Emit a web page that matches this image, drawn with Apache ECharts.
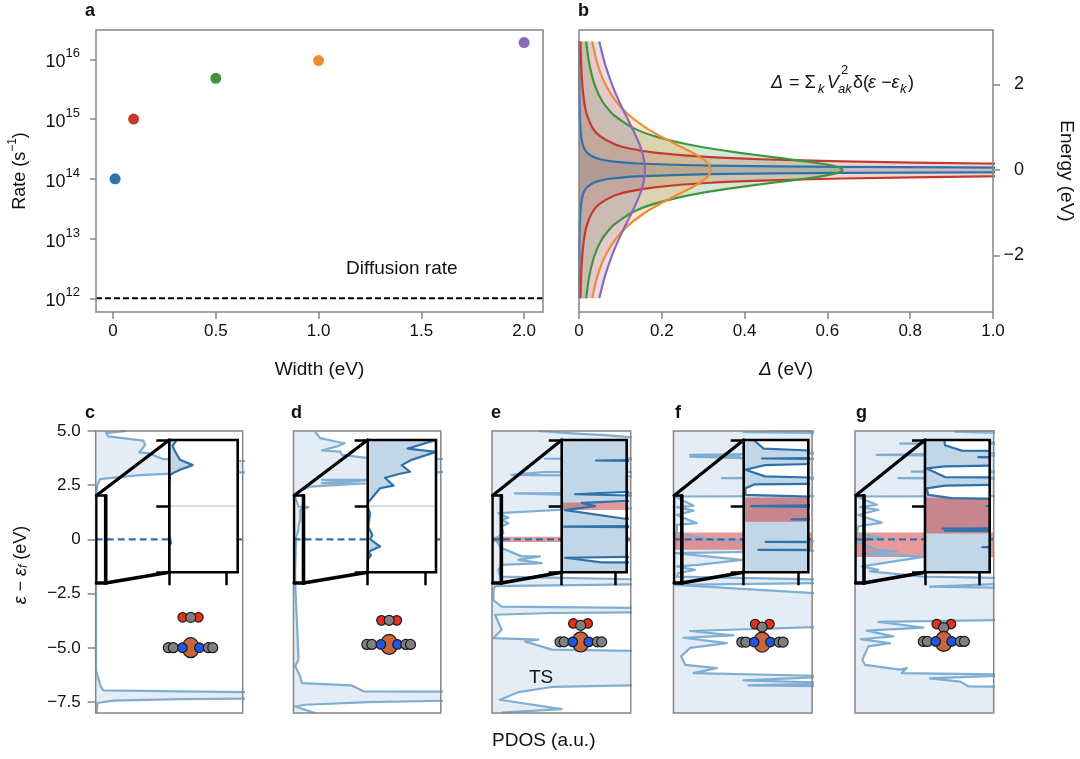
<!DOCTYPE html>
<html><head><meta charset="utf-8">
<style>html,body{margin:0;padding:0;background:#fff}#c{width:1080px;height:759px}</style>
<script src="https://cdn.jsdelivr.net/npm/echarts@6/dist/echarts.min.js"></script>
</head><body><div id="c"></div>
<script>
// ---------- panel a ----------
const widths = [0.01, 0.1, 0.5, 1.0, 2.0];
const rates = [1e14, 1e15, 4.8e15, 9.5e15, 1.9e16];
const curveColors = ['#2f72ab', '#c5392f', '#3f963f', '#f28c33', '#8c68b8'];
const rateTicks = [1e12, 1e13, 1e14, 1e15, 1e16];
const widthTicks = [0, 0.5, 1.0, 1.5, 2.0];
const diffusionRate = 1e12;
// ---------- panel b: hybridisation function, energy (eV) vs delta (eV) ----------
const energyHalf = [0, 0.03, 0.05, 0.07, 0.1, 0.15, 0.2, 0.25, 0.3, 0.4, 0.5, 0.6, 0.8, 1, 1.3, 1.6, 2, 2.5, 3];
const deltaBlue = [31.83, 3.183, 1.224, 0.6366, 0.3152, 0.1408, 0.0794, 0.0508, 0.0354, 0.0199, 0.0127, 0.0088, 0.005, 0.0032, 0.0019, 0.0012, 0.0008, 0.0005, 0.00035];
const deltaRed = [3.183, 2.92, 2.546, 2.136, 1.592, 0.979, 0.6366, 0.439, 0.3183, 0.1872, 0.1224, 0.086, 0.049, 0.0315, 0.0187, 0.0124, 0.0079, 0.0051, 0.0035];
const deltaGreen = [0.6366, 0.6343, 0.6303, 0.6244, 0.6122, 0.5841, 0.5488, 0.5093, 0.4681, 0.3882, 0.3183, 0.2609, 0.1788, 0.1273, 0.082, 0.0566, 0.0375, 0.0245, 0.0172];
const deltaOrange = [0.3183, 0.318, 0.3175, 0.3167, 0.3152, 0.3113, 0.3061, 0.2996, 0.292, 0.2744, 0.2546, 0.2341, 0.1941, 0.1592, 0.1183, 0.0894, 0.0637, 0.0439, 0.0318];
const deltaPurple = [0.1592, 0.1592, 0.1591, 0.159, 0.1588, 0.1583, 0.1576, 0.1567, 0.1556, 0.153, 0.1498, 0.146, 0.1372, 0.1273, 0.1119, 0.097, 0.0796, 0.0621, 0.049];
// ---------- panels c-g: [PDOS a.u., energy eV] ----------
const cMain = [[93,5],[31,4.9],[38,4.75],[143,4.56],[148,4.36],[131,4.01],[158,3.98],[203,3.7],[500,3.6],[500,3.1],[253,3.06],[123,2.95],[13,2.78],[5,2.52],[1,1.98],[1,-2],[1,-6],[3,-6.16],[15,-6.77],[23,-6.96],[253,-7],[500,-7.05],[500,-7.33],[253,-7.36],[53,-7.43],[5,-7.54],[3,-8]];
const cInset = [[22,1],[10,.91],[17,.83],[32,.7],[70,.62],[32,.55],[12,.5],[2,.47],[0,.3],[0,0],[0,-.45],[3,-.5],[5,-.56],[0,-.6],[0,-1]];
const dMain = [[65,4.96],[80,4.67],[140,4.47],[153,4.44],[130,4.29],[85,4.1],[140,4.05],[145,3.9],[225,3.75],[500,3.7],[500,3.2],[215,2.75],[85,2.75],[215,2.72],[85,2.6],[215,2.58],[50,2.44],[15,2.2],[5,1.98],[15,1.52],[45,1.49],[20,1.37],[20,.91],[15,.6],[15,.45],[8,.1],[5,-1.5],[5,-2.01],[10,-3.7],[15,-5.55],[5,-5.85],[20,-6.31],[25,-6.62],[175,-6.73],[210,-7],[500,-7.02],[500,-7.42],[225,-7.5],[35,-7.62],[5,-7.7],[65,-8]];
const dInset = [[205,1],[205,.98],[120,.87],[205,.82],[132,.7],[102,.62],[127,.52],[97,.49],[52,.43],[77,.31],[37,.27],[12,.12],[2,.06],[0,0],[7,-.11],[2,-.31],[14,-.44],[7,-.5],[37,-.61],[2,-.69],[10,-.74],[0,-.81],[0,-1]];
const eMain = [[139,5],[229,4.9],[349,4.8],[500,4.6],[500,3.75],[159,3.72],[500,3.68],[500,3.1],[154,3.1],[59,2.98],[204,2.95],[500,2.9],[500,2.14],[69,2.12],[204,2.06],[500,2],[500,1.45],[209,1.37],[19,1.21],[49,1],[29,.91],[49,.75],[29,.6],[34,.29],[9,.02],[29,-.4],[89,-.78],[144,-.78],[79,-.94],[149,-1.09],[29,-1.17],[19,-1.4],[24,-1.71],[500,-1.86],[500,-2.05],[10,-2.15],[5,-2.3],[4,-2.8],[29,-3.1],[500,-3.17],[500,-3.35],[179,-3.39],[9,-3.47],[29,-4.16],[4,-4.55],[139,-4.62],[99,-4.7],[179,-5.08],[500,-5.16],[500,-6.7],[179,-6.8],[79,-7.04],[24,-7.39],[209,-7.82],[29,-7.98]];
const eInset = [[300,1],[300,.7],[103,.69],[300,.68],[300,.24],[40,.18],[300,.15],[300,.1],[60,.05],[100,0],[10,-.06],[190,-.19],[300,-.19],[300,-.3],[5,-.31],[300,-.32],[300,-.76],[10,-.78],[120,-.85],[300,-.85],[300,-1]];
const fMain = [[500,5],[210,4.95],[500,4.9],[500,3.98],[50,3.9],[200,3.85],[50,3.82],[205,3.75],[500,3.7],[500,2.85],[145,2.83],[500,2.8],[500,2],[5,1.98],[60,1.55],[10,1.49],[60,1.33],[10,1.13],[70,.75],[10,.67],[10,.29],[5,.2],[105,.02],[205,-.05],[500,-.1],[500,-.5],[5,-.63],[205,-.94],[75,-1.17],[10,-1.24],[65,-1.4],[15,-1.55],[10,-1.71],[500,-1.86],[500,-2],[5,-2.09],[500,-2.55],[500,-4],[50,-4.22],[180,-4.42],[30,-4.53],[160,-4.78],[50,-5],[23,-5.39],[35,-5.78],[130,-5.93],[60,-6.16],[500,-6.31],[210,-6.5],[500,-6.62],[225,-6.73],[500,-6.77],[500,-8]];
const fInset = [[30,1],[34,.97],[60,.87],[300,.82],[300,.73],[55,.72],[300,.71],[300,.65],[64,.62],[5,.55],[64,.45],[300,.42],[300,.34],[34,.33],[5,.27],[5,.17],[300,.13],[300,.02],[22,0],[300,-.02],[300,-.19],[144,-.2],[300,-.21],[300,-.54],[66,-.54],[300,-.55],[300,-.66],[44,-.66],[300,-.67],[300,-1]];
const gMain = [[500,5],[300,4.97],[500,4.87],[500,4.5],[135,4.42],[500,4.4],[500,4],[65,3.9],[200,3.88],[500,3.85],[500,3.15],[170,3.13],[500,3.1],[500,2.85],[130,2.83],[500,2.8],[500,2],[5,1.98],[65,1.6],[15,1.49],[70,1.37],[10,1.13],[80,.78],[10,.6],[5,.29],[80,.06],[5,-.1],[70,-.48],[125,-.55],[20,-.63],[205,-.8],[20,-1.24],[70,-1.4],[45,-1.47],[205,-1.71],[500,-1.79],[500,-2.01],[225,-2.17],[500,-2.24],[500,-3.7],[70,-3.8],[205,-4.06],[35,-4.2],[115,-4.47],[17,-4.6],[105,-4.78],[40,-4.93],[22,-5.55],[30,-5.78],[135,-6],[155,-5.93],[140,-6.16],[500,-6.24],[225,-6.4],[315,-6.55],[340,-6.77],[500,-6.8],[500,-8]];
const gInset = [[58,1],[60,.92],[110,.84],[300,.83],[300,.75],[160,.74],[300,.73],[300,.62],[60,.6],[5,.57],[60,.44],[300,.43],[300,.33],[60,.31],[5,.27],[10,.17],[80,.12],[300,.1],[300,.01],[185,0],[300,-.01],[300,-.33],[52,-.34],[300,-.35],[60,-.37],[300,-.38],[300,-.62],[172,-.62],[300,-.63],[300,-1]];
// adsorbate-complex atoms: [PDOS a.u., energy eV, kind]
const cAtoms = [[261,-3.59,'O'],[308,-3.59,'O'],[285,-3.59,'C'],[218,-4.99,'C'],[233,-4.99,'C'],[285,-4.99,'M'],[260,-4.99,'N'],[311,-4.99,'N'],[338,-4.99,'C'],[351,-4.99,'C']];
const dAtoms = [[264,-3.73,'O'],[310,-3.73,'O'],[287,-3.73,'C'],[220,-4.84,'C'],[235,-4.84,'C'],[287,-4.84,'M'],[262,-4.84,'N'],[312,-4.84,'N'],[337,-4.84,'C'],[351,-4.84,'C']];
const eAtoms = [[244,-3.87,'O'],[287,-3.87,'O'],[266,-3.96,'C'],[204,-4.72,'C'],[216,-4.72,'C'],[266,-4.72,'M'],[242,-4.72,'N'],[290,-4.72,'N'],[316,-4.72,'C'],[329,-4.72,'C']];
const fAtoms = [[245,-3.9,'O'],[288,-3.9,'O'],[266,-4.04,'C'],[205,-4.73,'C'],[217,-4.73,'C'],[266,-4.73,'M'],[242,-4.73,'N'],[291,-4.73,'N'],[317,-4.73,'C'],[329,-4.73,'C']];
const gAtoms = [[245,-3.9,'O'],[288,-3.9,'O'],[266,-4.06,'C'],[205,-4.7,'C'],[217,-4.7,'C'],[266,-4.7,'M'],[242,-4.7,'N'],[290,-4.7,'N'],[316,-4.7,'C'],[328,-4.7,'C']];
const pdosEnergyTicks = [5, 2.5, 0, -2.5, -5, -7.5];

const FONT = 'Liberation Sans';
const SPINE = '#858585';
const atomStyle = {O:['#e8301f',9.5], C:['#808080',10], N:['#2255e0',9.5], M:['#c9653a',[17,20]]};
const panels = [
 {name:'c', main:cMain, inset:cInset, atoms:cAtoms, w:441, inW:205, tick:172, box:30, grid:[95.7,431,147,282], in:[169.3,440,68.4,132.3], bMain:null, bIn:null, hair:true},
 {name:'d', main:dMain, inset:dInset, atoms:dAtoms, w:442, inW:205, tick:172, box:30, grid:[293.5,431,147.3,282], in:[367.7,440,68.3,132.3], bMain:null, bIn:null, hair:true},
 {name:'e', main:eMain, inset:eInset, atoms:eAtoms, w:416, inW:195, tick:162, box:28, grid:[492,431,138.7,282], in:[561.7,440,65,132.3], bMain:[-.12,.12], bIn:[-.06,.055]},
 {name:'f', main:fMain, inset:fInset, atoms:fAtoms, w:416, inW:194, tick:163, box:25, grid:[673.5,431,138.6,282], in:[743.7,440,64.6,132.3], bMain:[-.476,.32], bIn:[-.237,.13]},
 {name:'g', main:gMain, inset:gInset, atoms:gAtoms, w:416, inW:194, tick:164, box:27, grid:[855,431,138.7,282], in:[925,440,64.7,132.3], bMain:[-.81,.32], bIn:[-.413,.13]}
];

const grids = [], xAxes = [], yAxes = [], series = [];
const NOLINE = {show:false, onZero:false};
function addGrid(r){ grids.push({left:r[0], top:r[1], width:r[2], height:r[3], containLabel:false}); return grids.length-1; }
function frame(g, lw, col, z){
  series.push({type:'custom', xAxisIndex:g, yAxisIndex:g, z, silent:true, data:[[0,0]], clip:false,
    renderItem:(p)=>({type:'rect', shape:{x:p.coordSys.x,y:p.coordSys.y,width:p.coordSys.width,height:p.coordSys.height}, style:{fill:'none',stroke:col,lineWidth:lw}})});
}
function fillArea(g, pts, col, z){
  series.push({type:'custom', xAxisIndex:g, yAxisIndex:g, z, silent:true, data:[[0,0]],
    renderItem:(p,api)=>{
      const all=[[0,pts[0][1]]].concat(pts,[[0,pts[pts.length-1][1]]]).map(q=>api.coord(q));
      const c=p.coordSys;
      return {type:'polygon', shape:{points:all}, style:{fill:col}, clipPath:{type:'rect',shape:{x:c.x,y:c.y,width:c.width,height:c.height}}};
    }});
}
function bandRect(g, x1, band, col, z){
  series.push({type:'custom', xAxisIndex:g, yAxisIndex:g, z, silent:true, data:[[0,0]],
    renderItem:(p,api)=>{
      const a=api.coord([0,band[1]]), b=api.coord([x1,band[0]]);
      return {type:'rect', shape:{x:a[0],y:a[1],width:b[0]-a[0],height:b[1]-a[1]}, style:{fill:col}};
    }});
}
function line(g, pts, col, w, z, extra){
  series.push({type:'line', xAxisIndex:g, yAxisIndex:g, data:pts, symbol:'none', z, silent:true, clip:true,
    lineStyle:Object.assign({color:col,width:w,join:'round'},extra||{})});
}

// ---------- a ----------
const ga = addGrid([96,30,447,282]);
xAxes.push({gridIndex:ga, type:'value', min:-0.083, max:2.092,
  axisLine:NOLINE, splitLine:{show:false},
  axisTick:{show:true, length:7, customValues:widthTicks, lineStyle:{color:SPINE,width:1.5}},
  axisLabel:{show:true, customValues:widthTicks, margin:11, fontFamily:FONT, fontSize:17, color:'#111', formatter:v=>v===0?'0':v.toFixed(1)},
  name:'Width (eV)', nameLocation:'middle', nameGap:48, nameTextStyle:{fontFamily:FONT,fontSize:19,color:'#111'}});
yAxes.push({gridIndex:ga, type:'log', logBase:10, min:5.9e11, max:3.09e16,
  axisLine:NOLINE, splitLine:{show:false}, minorTick:{show:false},
  axisTick:{show:true, length:6, customValues:rateTicks, lineStyle:{color:SPINE,width:1.5}},
  axisLabel:{show:true, customValues:rateTicks, margin:16, formatter:v=>'{b|10}{s|'+Math.round(Math.log10(v))+'}',
    rich:{b:{fontFamily:FONT,fontSize:18,color:'#111',lineHeight:24,verticalAlign:'bottom'}, s:{fontFamily:FONT,fontSize:13,color:'#111',lineHeight:24,verticalAlign:'top'}}},
  name:'{b|Rate (s}{s|−1}{b|)}', nameLocation:'middle', nameGap:67, nameRotate:90,
  nameTextStyle:{rich:{b:{fontFamily:FONT,fontSize:18,color:'#111',lineHeight:22,verticalAlign:'bottom'}, s:{fontFamily:FONT,fontSize:12,color:'#111',lineHeight:22,verticalAlign:'top'}}}});
widths.forEach((w,i)=>{
  series.push({type:'scatter', xAxisIndex:ga, yAxisIndex:ga, data:[[w,rates[i]]], symbolSize:11, z:4, silent:true, itemStyle:{color:curveColors[i],opacity:1}});
});
line(ga, [[-0.083,diffusionRate],[2.092,diffusionRate]], '#000', 2, 3, {type:[6,3]});
frame(ga, 1.5, SPINE, 9);

// ---------- b ----------
const gb = addGrid([579,30,414,282]);
xAxes.push({gridIndex:gb, type:'value', min:0, max:1, interval:0.2,
  axisLine:NOLINE, splitLine:{show:false},
  axisTick:{show:true, length:7, lineStyle:{color:SPINE,width:1.5}},
  axisLabel:{show:true, margin:11, fontFamily:FONT, fontSize:17, color:'#111', formatter:v=>v===0?'0':v.toFixed(1)},
  name:'{i|Δ} (eV)', nameLocation:'middle', nameGap:48, nameTextStyle:{fontFamily:FONT,fontSize:19,color:'#111',rich:{i:{fontFamily:FONT,fontSize:19,fontStyle:'italic',color:'#111'}}}});
yAxes.push({gridIndex:gb, type:'value', position:'right', min:-3.32, max:3.27,
  axisLine:NOLINE, splitLine:{show:false},
  axisTick:{show:true, length:7, customValues:[-2,0,2], lineStyle:{color:SPINE,width:1.5}},
  axisLabel:{show:true, customValues:[-2,0,2], margin:31, align:'right', fontFamily:FONT, fontSize:18, color:'#111', formatter:v=>v<0?'−'+Math.abs(v):''+v},
  name:'Energy (eV)', nameLocation:'middle', nameGap:64, nameRotate:-90, nameTextStyle:{fontFamily:FONT,fontSize:19,color:'#111'}});
const deltas = [deltaBlue, deltaRed, deltaGreen, deltaOrange, deltaPurple];
deltas.forEach((d,i)=>{
  const pts = [];
  for(let k=energyHalf.length-1;k>0;k--) pts.push([d[k],energyHalf[k]]);
  for(let k=0;k<energyHalf.length;k++) pts.push([d[k],-energyHalf[k]]);
  fillArea(gb, pts, curveColors[i]+'38', 2);
  line(gb, pts, curveColors[i], 2.2, 4+i*0.1, {});
  series[series.length-1].smooth = 0.2;
});
frame(gb, 1.5, SPINE, 9);

// ---------- c-g ----------
panels.forEach((P,i)=>{
  const g = addGrid(P.grid);
  xAxes.push({gridIndex:g, type:'value', min:0, max:P.w, show:false, axisLine:NOLINE, splitLine:{show:false}});
  if(i===0){
    yAxes.push({gridIndex:g, type:'value', min:-8, max:5,
      axisLine:NOLINE, splitLine:{show:false},
      axisTick:{show:true, length:8, customValues:pdosEnergyTicks, lineStyle:{color:SPINE,width:1.5}},
      axisLabel:{show:true, customValues:pdosEnergyTicks, margin:15, fontFamily:FONT, fontSize:17, color:'#111',
        formatter:v=>{const a=Math.abs(v); const s=v===0?'0':a.toFixed(1); return v<0?'−'+s:s;}},
      name:'{i|ε} − {i|ε}{s|f} (eV)', nameLocation:'middle', nameGap:66, nameRotate:90,
      nameTextStyle:{fontFamily:FONT,fontSize:18,color:'#111',padding:[0,0,0,14],
        rich:{i:{fontFamily:FONT,fontSize:18,fontStyle:'italic',color:'#111'}, s:{fontFamily:FONT,fontSize:12,fontStyle:'italic',color:'#111',verticalAlign:'bottom'}}}});
  } else {
    yAxes.push({gridIndex:g, type:'value', min:-8, max:5, show:false, axisLine:NOLINE, splitLine:{show:false}});
  }
  fillArea(g, P.main, '#e4edf5', 2);
  if(P.bMain) bandRect(g, P.w, P.bMain, 'rgba(214,70,70,0.55)', 2.5);
  line(g, P.main, '#80aed3', 2.2, 3);
  line(g, [[0,0],[P.w,0]], '#2f72ab', 2.2, 3.5, {type:[7,4]});
  series.push({type:'scatter', xAxisIndex:g, yAxisIndex:g, z:4, silent:true,
    data:P.atoms.map(a=>({value:[a[0],a[1]], symbolSize:atomStyle[a[2]][1], itemStyle:{color:atomStyle[a[2]][0],borderColor:'#1a1a1a',borderWidth:1.2,opacity:1}}))});
  frame(g, 1.5, SPINE, 5);

  // inset drawn on its own axes
  const h = addGrid(P.in);
  xAxes.push({gridIndex:h, type:'value', min:0, max:P.inW, z:9, axisLine:NOLINE, splitLine:{show:false}, axisLabel:{show:false},
    axisTick:{show:true, length:13, customValues:[0,P.tick], lineStyle:{color:'#000',width:2.5}}});
  yAxes.push({gridIndex:h, type:'value', min:-1, max:1, z:9, axisLine:NOLINE, splitLine:{show:false}, axisLabel:{show:false},
    axisTick:{show:true, length:13, customValues:[-1,0,1], lineStyle:{color:'#000',width:2.5}}});
  bandRect(h, P.inW, [-1,1], '#ffffff', 6);
  fillArea(h, P.inset, '#c1d7e7', 6.2);
  if(P.bIn) bandRect(h, P.inW, P.bIn, 'rgba(205,60,60,0.52)', 6.4);
  if(P.hair) line(h, [[0,0],[P.inW,0]], '#c4dbec', 1.6, 6.5);
  line(h, P.inset, '#2f72ab', 2.2, 6.6);
  frame(h, 2.6, '#000', 8);

  // zoom box and connectors, anchored on the main axes
  series.push({type:'custom', xAxisIndex:g, yAxisIndex:g, z:8, silent:true, data:[[0,0]], clip:false,
    renderItem:(p,api)=>{
      const tl=api.coord([2,2.03]), tr=api.coord([P.box,2.03]), bl=api.coord([2,-2.01]), br=api.coord([P.box,-2.01]);
      const itl=[P.in[0],P.in[1]], ibl=[P.in[0],P.in[1]+P.in[3]];
      const L=(a,b,w)=>({type:'line',shape:{x1:a[0],y1:a[1],x2:b[0],y2:b[1]},style:{stroke:'#000',lineWidth:w,lineCap:'round'}});
      return {type:'group',children:[L(tl,bl,2.2),L(tl,tr,2.6),L(tr,br,3.6),L(bl,br,3.6),L(tl,itl,3.2),L(br,ibl,3.6)]};
    }});
});

// ---------- free text ----------
const T = (x,y,text,o)=>({type:'text', left:x, top:y, z:20, silent:true,
  style:Object.assign({text, fontFamily:FONT, fontSize:18, fill:'#111'},o||{})});
const letters = [['a',85,2],['b',578,2],['c',85,404],['d',291,404],['e',491,404],['f',675,404],['g',856,404]];
const graphicEls = letters.map(l=>T(l[1],l[2],l[0],{fontWeight:'bold',fontSize:18}));
graphicEls.push(T(346,259,'Diffusion rate',{fontSize:19}));
graphicEls.push(T(492,731,'PDOS (a.u.)',{fontSize:19}));
graphicEls.push(T(529,668,'TS',{fontSize:19}));
graphicEls.push(T(771,74,'Δ',{fontStyle:'italic'}));
graphicEls.push(T(789,74,'= Σ',{}));
graphicEls.push(T(818,83,'k',{fontStyle:'italic',fontSize:13}));
graphicEls.push(T(827,74,'V',{fontStyle:'italic'}));
graphicEls.push(T(841,64,'2',{fontSize:13}));
graphicEls.push(T(838,83,'ak',{fontStyle:'italic',fontSize:13}));
graphicEls.push(T(853,74,'δ(',{}));
graphicEls.push(T(868,74,'ε −ε',{fontStyle:'italic'}));
graphicEls.push(T(900,83,'k',{fontStyle:'italic',fontSize:13}));
graphicEls.push(T(908,74,')',{}));

const chart = echarts.init(document.getElementById('c'), null, {renderer:'canvas', width:1080, height:759});
chart.setOption({animation:false, backgroundColor:'#fff', textStyle:{fontFamily:FONT},
  grid:grids, xAxis:xAxes, yAxis:yAxes, series, graphic:{elements:graphicEls}});
</script></body></html>
